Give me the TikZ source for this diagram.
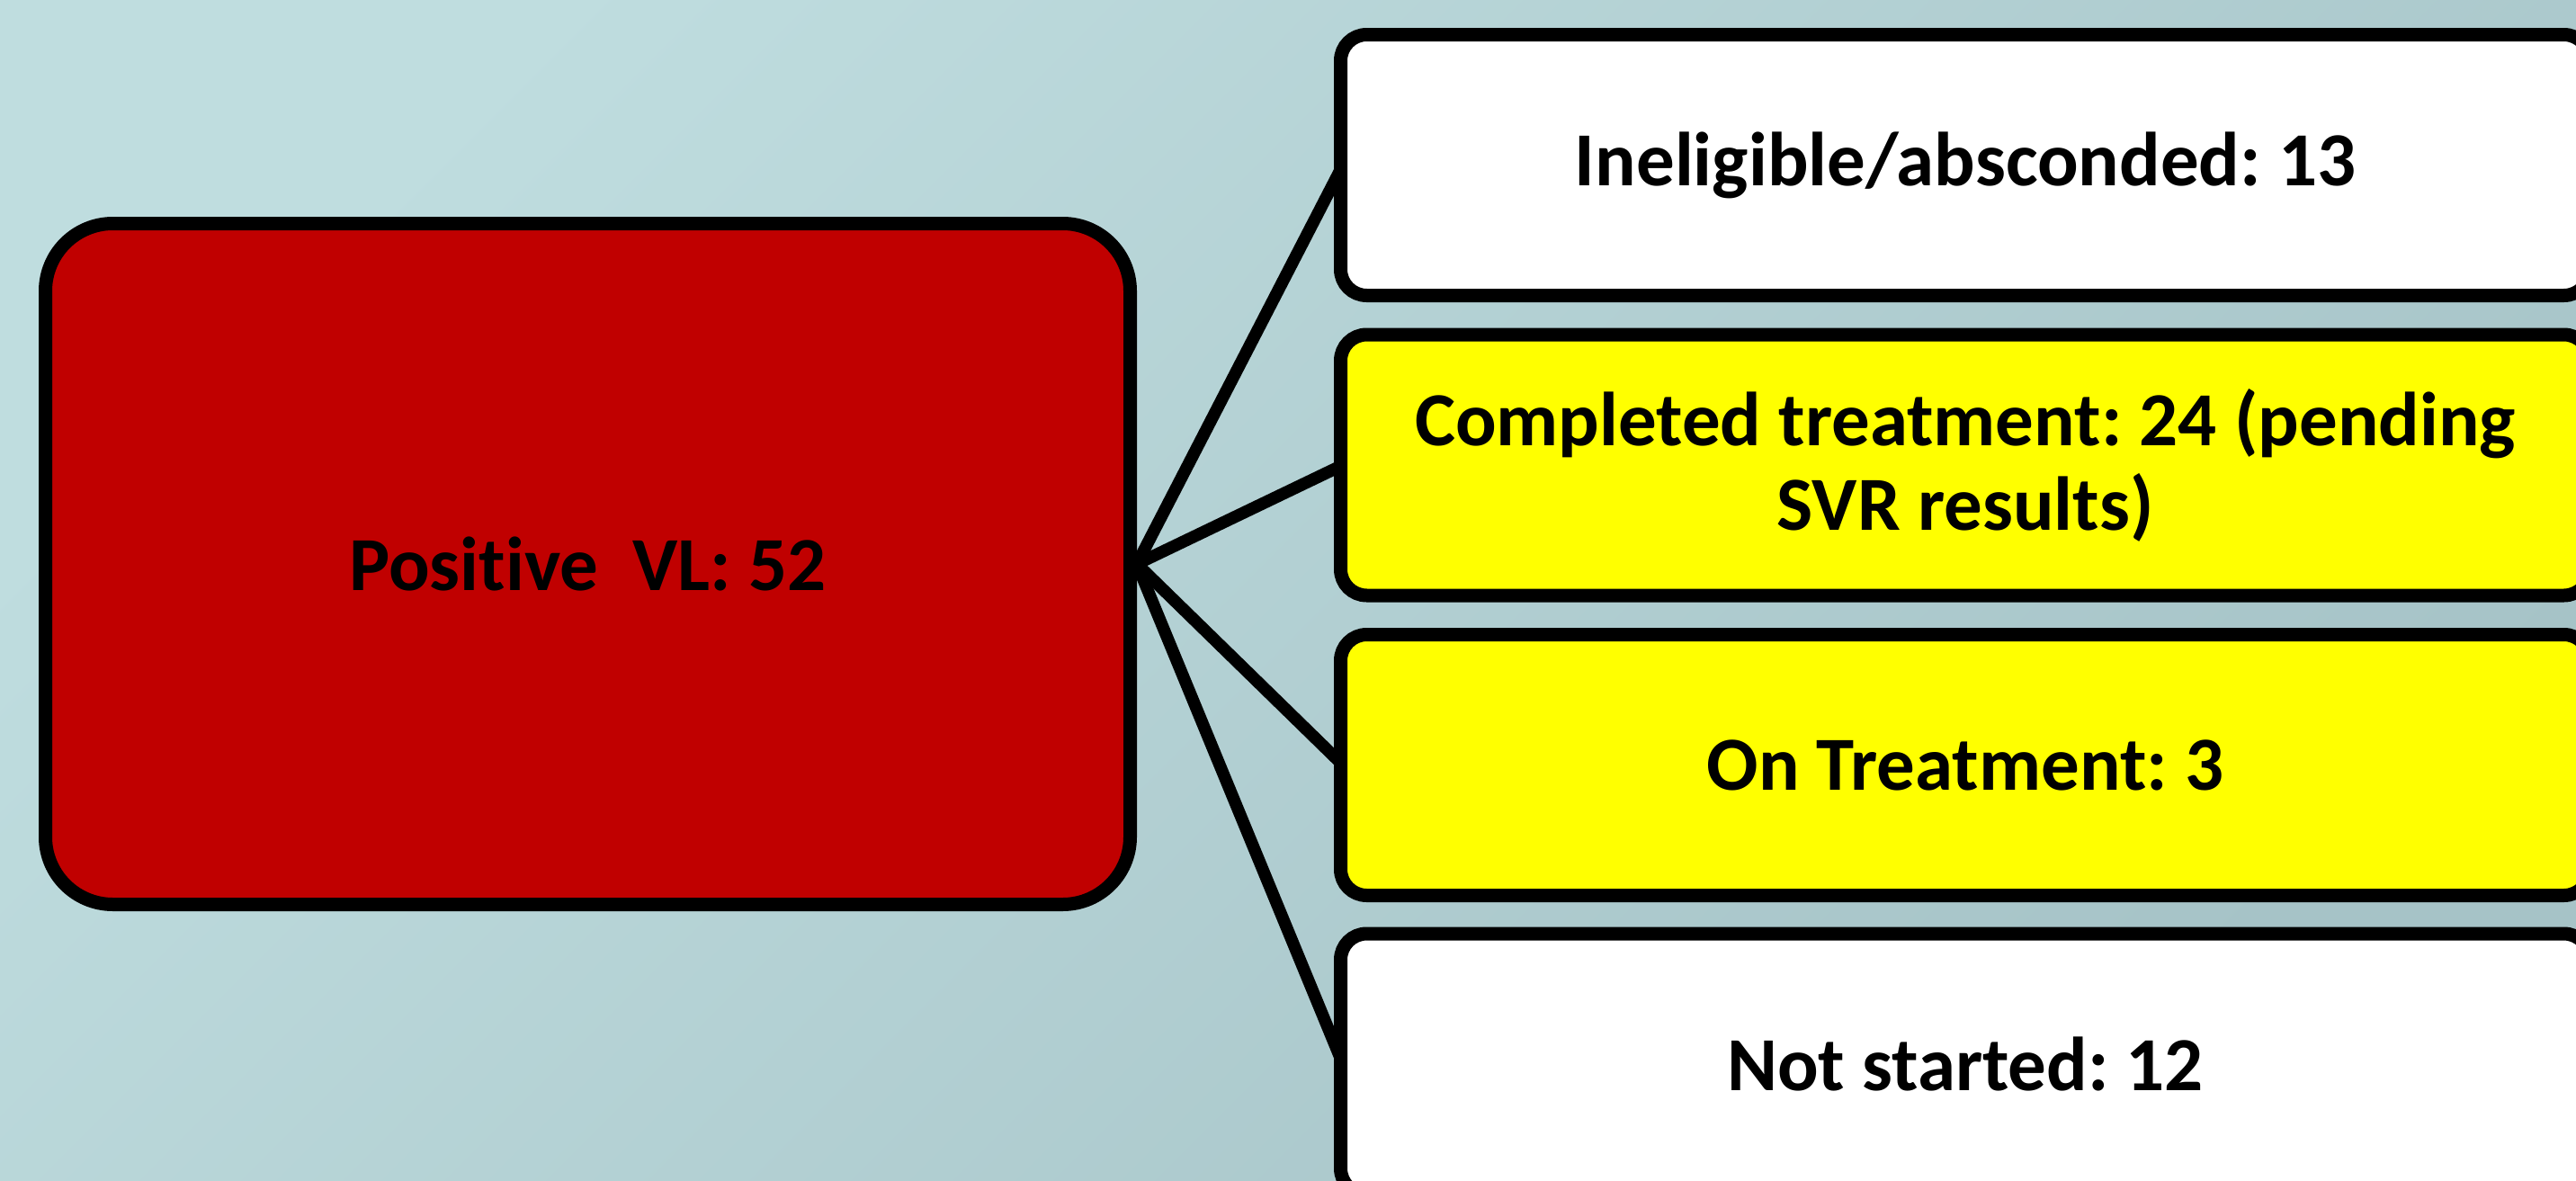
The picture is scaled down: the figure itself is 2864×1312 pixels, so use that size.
\documentclass[tikz,border=0pt]{standalone}
\usepackage{fontspec}
\setmainfont{Carlito}[Ligatures={NoCommon,NoContextual}]
\frenchspacing
\pgfdeclarelayer{bglayer}
\pgfdeclarelayer{linelayer}
\pgfsetlayers{bglayer,linelayer,main}
\definecolor{bgTL}{RGB}{191,221,223}
\definecolor{bgBR}{RGB}{166,195,199}
\definecolor{boxred}{RGB}{192,0,0}
\definecolor{boxyellow}{RGB}{255,255,0}
\tikzset{
  labelfont/.style={font=\bfseries\fontsize{42.5pt}{47pt}\selectfont, text=black},
  sidebox/.style={labelfont, draw=black, line width=7.5pt, rounded corners=14.5pt,
    minimum width=694.5pt, minimum height=145pt, inner sep=0pt, align=center},
  bigbox/.style={labelfont, draw=black, line width=7.5pt, rounded corners=37.5pt,
    fill=boxred, minimum width=603pt, minimum height=378.5pt, inner sep=0pt, align=center},
  conn/.style={draw=black, line width=6.75pt}
}
\begin{document}
\begin{tikzpicture}[x=0.5pt,y=-0.5pt]
\path[use as bounding box] (0,0) rectangle (2864,1312);
\clip (0,0) rectangle (2864,1312);
\begin{pgfonlayer}{bglayer}
\shade[top color=bgTL, bottom color=bgBR, shading angle=45] (0,0) rectangle (2864,1312);
\end{pgfonlayer}

\node[bigbox] (red) at (653.5,627) {Positive\ \ VL: 52};
\node[sidebox, fill=white] (b1) at (2185,183.5) {Ineligible/absconded: 13};
\node[sidebox, fill=boxyellow] (b2) at (2185,517) {Completed treatment: 24 (pending\\SVR results)};
\node[sidebox, fill=boxyellow] (b3) at (2185,850.5) {On Treatment: 3};
\node[sidebox, fill=white] (b4) at (2185,1183) {Not started: 12};

\begin{pgfonlayer}{linelayer}
\draw[conn] (red.east) -- ([xshift=5pt]b1.west);
\draw[conn] (red.east) -- ([xshift=5pt]b2.west);
\draw[conn] (red.east) -- ([xshift=5pt]b3.west);
\draw[conn] (red.east) -- ([xshift=5pt]b4.west);
\end{pgfonlayer}
\end{tikzpicture}
\end{document}
